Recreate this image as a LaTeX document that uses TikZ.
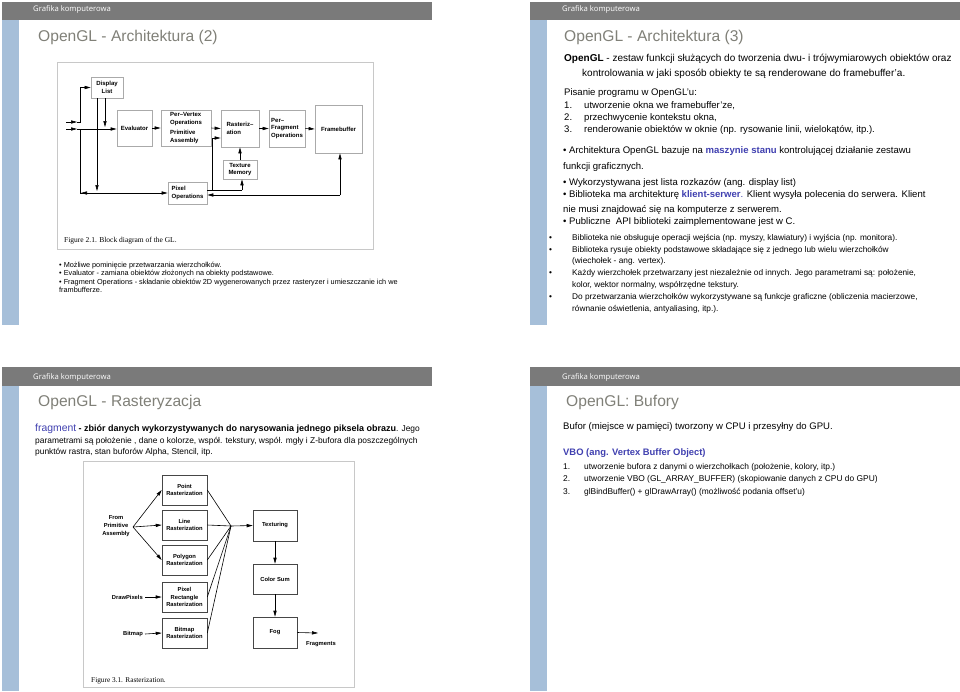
\documentclass[tikz,border=0pt]{standalone}
\usepackage{fontspec}
\setmainfont{Liberation Sans}
\newfontfamily\hdrfont{Open Sans}
\newfontfamily\capfont{Liberation Serif}
\usetikzlibrary{arrows.meta}
\definecolor{hdrgray}{RGB}{122,122,122}
\definecolor{stripblue}{RGB}{166,191,217}
\definecolor{titlegray}{RGB}{128,128,120}
\definecolor{linkblue}{RGB}{64,64,176}
\definecolor{framegray}{RGB}{200,200,200}
\definecolor{boxgray}{RGB}{170,170,170}
\definecolor{boxdark}{RGB}{70,70,70}
\tikzset{
  hdr/.style={anchor=base west, inner sep=0pt, text=white, font=\hdrfont\fontsize{7.7}{9}\selectfont},
  ttl/.style={anchor=base west, inner sep=0pt, text=titlegray, font=\fontsize{15.6}{18}\selectfont},
  ptxt/.style={anchor=base west, inner sep=0pt, font=\fontsize{10}{12}\selectfont},
  txt/.style={anchor=base west, inner sep=0pt, font=\fontsize{9.55}{11}\selectfont},
  ltxt/.style={anchor=base west, inner sep=0pt, font=\fontsize{8.4}{10}\selectfont},
  stxt/.style={anchor=base west, inner sep=0pt, font=\fontsize{8.3}{10}\selectfont},
  mtxt/.style={anchor=base west, inner sep=0pt, font=\fontsize{8.4}{10}\selectfont},
  btxt/.style={anchor=base west, inner sep=0pt, font=\fontsize{7.3}{9}\selectfont},
  capt/.style={anchor=base west, inner sep=0pt, font=\capfont\fontsize{7.5}{9}\selectfont},
  boxa/.style={draw=boxgray, line width=0.7pt, inner sep=1pt, font=\bfseries\fontsize{6}{7.6}\selectfont},
  boxb/.style={draw=boxdark, line width=0.6pt, inner sep=1pt, align=center, minimum width=45pt, minimum height=30pt, font=\bfseries\fontsize{5.8}{7.8}\selectfont},
  lbl/.style={inner sep=0pt, align=center, font=\bfseries\fontsize{5.8}{7.8}\selectfont},
  arr/.style={-{Triangle[length=6pt,width=3.2pt]}, line width=0.6pt},
  ln/.style={line width=0.6pt},
}
\begin{document}
\begin{tikzpicture}[x=1pt,y=-1pt]
\useasboundingbox (0,0) rectangle (960,691);
\fill[white] (0,0) rectangle (960,691);
% ---------- slide frames ----------
\fill[hdrgray] (2,2) rectangle (432,20);
\fill[stripblue] (2,20) rectangle (19,325);
\fill[hdrgray] (530,2) rectangle (960,20);
\fill[stripblue] (530,20) rectangle (547,325);
\fill[hdrgray] (2,367) rectangle (432,386);
\fill[stripblue] (2,386) rectangle (19,691);
\fill[hdrgray] (530,367) rectangle (960,386);
\fill[stripblue] (530,386) rectangle (547,691);
\node[hdr] (h1) at (33,11.5) {Grafika komputerowa};
\node[hdr] (h2) at (562,11.5) {Grafika komputerowa};
\node[hdr] (h3) at (33,379.5) {Grafika komputerowa};
\node[hdr] (h4) at (562,379.5) {Grafika komputerowa};
\node[ttl] (t1) at (38,41) {OpenGL - Architektura (2)};
\node[ttl] (t2) at (564,41) {OpenGL - Architektura (3)};
\node[ttl] (t3) at (38,406) {OpenGL - Rasteryzacja};
\node[ttl] (t4) at (566,406) {OpenGL: Bufory};

% ---------- slide 1: block diagram ----------
\draw[framegray, line width=0.8pt] (57,62) rectangle (373,249);
\node[boxa, minimum width=32pt, minimum height=21pt, align=center] (disp) at (107,87.5) {Display\\List};
\node[boxa, minimum width=35pt, minimum height=36pt] (eval) at (134.5,128) {Evaluator};
\node[boxa, minimum width=50pt, minimum height=36pt, align=left] (pv) at (186,128) {Per–Vertex\\Operations\\[3pt]Primitive\\Assembly};
\node[boxa, minimum width=38pt, minimum height=37pt, align=left] (rast) at (240,128.5) {Rasteriz–\\ation};
\node[boxa, minimum width=36pt, minimum height=37pt, align=left] (pf) at (287,128.5) {Per–\\Fragment\\Operations};
\node[boxa, minimum width=47pt, minimum height=48pt] (fb) at (338.5,129) {Framebuffer};
\node[boxa, minimum width=34pt, minimum height=19pt, align=center] (tex) at (240,169.5) {Texture\\Memory};
\node[boxa, minimum width=39pt, minimum height=22pt, align=left] (pix) at (187.5,193) {Pixel\\Operations};
\coordinate (ia0) at (66,122);
\coordinate (ia1) at (77,122);
\coordinate (ia2) at (80,122);
\coordinate (ib0) at (66,129);
\coordinate (ib1) at (77,129);
\coordinate (ib2) at (80,129);
\coordinate (pl) at (80,193);
\coordinate (pm) at (97,193);
\coordinate (pr1) at (212,190);
\coordinate (pr2) at (242,190);
\coordinate (fbl) at (340,195);
\draw[arr] (ia0) -- (ia1);
\draw[arr] (ia1) -- (ia2) |- (disp.west);
\draw[arr] (ib0) -- (ib1);
\draw[arr] (ib1) -- (ib1 -| eval.west);
\draw[ln] (ib2) -- (pl) -- (pm);
\draw[arr] (pm) -- (81,193);
\draw[arr] (pm) -- (pix.west);
\draw[arr] (disp.south -| 97,0) -- (97,191);
\draw[arr] (disp.south -| 105,0) -- (105,127);
\draw[arr] (eval.east) -- (pv.west);
\draw[arr] (pv.east) -- (rast.west);
\draw[arr] (rast.east) -- (pf.west);
\draw[arr] (pf.east) -- (fb.west);
\draw[arr] (tex.north) -- (rast.south);
\draw[ln] (pix.east |- pr1) -- (pr2);
\draw[arr] (pr2) -- (tex.south -| pr2);
\draw[arr] (pr1) |- (rast.west |- 0,138);
\draw[arr] (fbl) -- (fb.south -| fbl);
\draw[arr] (fbl) -- (pix.east |- fbl);
\node[capt] (cap1) at (64,242.5) {Figure 2.1. Block diagram of the GL.};
\node[btxt] (b11) at (59,267) {• Możliwe pominięcie przetwarzania wierzchołków.};
\node[btxt] (b12) at (59,275.5) {• Evaluator - zamiana obiektów złożonych na obiekty podstawowe.};
\node[btxt] (b13) at (59,284) {• Fragment Operations - składanie obiektów 2D wygenerowanych przez rasteryzer i umieszczanie ich we};
\node[btxt] (b14) at (59,292.5) {frambufferze.};

% ---------- slide 2 ----------
\node[ptxt] (p1) at (564,61.5) {\textbf{OpenGL} - zestaw funkcji służących do tworzenia dwu- i trójwymiarowych obiektów oraz};
\node[ptxt] (p2) at (582,76.5) {kontrolowania w jaki sposób obiekty te są renderowane do framebuffer’a.};
\node[txt] (p3) at (564,95.5) {Pisanie programu w OpenGL’u:};
\node[txt] (n1) at (564,108.5) {1.};
\node[txt] (l1) at (584,108.5) {utworzenie okna we framebuffer’ze,};
\node[txt] (n2) at (564,120.5) {2.};
\node[txt] (l2) at (584,120.5) {przechwycenie kontekstu okna,};
\node[txt] (n3) at (564,132.5) {3.};
\node[txt] (l3) at (584,132.5) {renderowanie obiektów w oknie (np. rysowanie linii, wielokątów, itp.).};
\node[txt] (q1) at (563,153.5) {• Architektura OpenGL bazuje na \textcolor{linkblue}{\textbf{maszynie stanu}} kontrolującej działanie zestawu};
\node[txt] (q2) at (563,169.5) {funkcji graficznych.};
\node[txt] (q3) at (563,185) {• Wykorzystywana jest lista rozkazów (ang. display list)};
\node[txt] (q4) at (563,197.5) {• Biblioteka ma architekturę \textcolor{linkblue}{\textbf{klient-serwer}}\textcolor{linkblue}{.} Klient wysyła polecenia do serwera. Klient};
\node[txt] (q5) at (563,212.5) {nie musi znajdować się na komputerze z serwerem.};
\node[txt] (q6) at (563,224.5) {• Publiczne\ \ API biblioteki zaimplementowane jest w C.};
\node[stxt] (d1) at (549,240) {•};
\node[stxt] (s1) at (572,240) {Biblioteka nie obsługuje operacji wejścia (np. myszy, klawiatury) i wyjścia (np. monitora).};
\node[stxt] (d2) at (549,252) {•};
\node[stxt] (s2) at (572,252) {Biblioteka rysuje obiekty podstawowe składające się z jednego lub wielu wierzchołków};
\node[stxt] (s3) at (572,263) {(wiechołek - ang. vertex).};
\node[stxt] (d3) at (549,275.5) {•};
\node[stxt] (s4) at (572,275.5) {Każdy wierzchołek przetwarzany jest niezależnie od innych. Jego parametrami są: położenie,};
\node[stxt] (s5) at (572,287) {kolor, wektor normalny, współrzędne tekstury.};
\node[stxt] (d4) at (549,299.5) {•};
\node[stxt] (s6) at (572,299.5) {Do przetwarzania wierzchołków wykorzystywane są funkcje graficzne (obliczenia macierzowe,};
\node[stxt] (s7) at (572,311) {równanie oświetlenia, antyaliasing, itp.).};

% ---------- slide 3 ----------
\node[mtxt] (f1) at (35,431) {\textcolor{linkblue}{\fontsize{10.4}{12}\selectfont fragment} {\fontsize{9}{11}\selectfont\textbf{- zbiór danych wykorzystywanych do narysowania jednego piksela obrazu}}. Jego};
\node[mtxt] (f2) at (35,443) {parametrami są położenie , dane o kolorze, współ. tekstury, współ. mgły i Z-bufora dla poszczególnych};
\node[mtxt] (f3) at (35,454) {punktów rastra, stan buforów Alpha, Stencil, itp.};
\draw[framegray, line width=0.8pt] (83,461) rectangle (354,687);
\node[boxb] (pt) at (184.5,490) {Point\\Rasterization};
\node[boxb] (li) at (184.5,525) {Line\\Rasterization};
\node[boxb] (po) at (184.5,560) {Polygon\\Rasterization};
\node[boxb] (pr) at (184.5,597) {Pixel\\Rectangle\\Rasterization};
\node[boxb] (bm) at (184.5,633) {Bitmap\\Rasterization};
\node[boxb, minimum width=44pt, minimum height=31pt] (tx) at (275,525.5) {Texturing};
\node[boxb, minimum width=44pt, minimum height=30pt] (cs) at (275,579) {Color Sum};
\node[boxb, minimum width=44pt, minimum height=31pt] (fog) at (275,632.5) {Fog};
\node[lbl] (from) at (116,526) {From\\Primitive\\Assembly};
\node[lbl, anchor=east] (dp) at (143,597) {DrawPixels};
\node[lbl, anchor=east] (bml) at (143,634) {Bitmap};
\node[lbl] (frag) at (321,644) {Fragments};
\coordinate (src) at (133,527);
\coordinate (jn) at (231,526);
\coordinate (out) at (318,633);
\draw[arr] (src) -- (pt.west);
\draw[arr] (src) -- (li.west);
\draw[arr] (src) -- (po.west);
\draw[arr] (dp.east) ++(2,0) -- (pr.west);
\draw[arr] (bml.east) ++(2,0) -- (bm.west);
\draw[ln] (pt.east) -- (jn);
\draw[ln] (li.east) -- (jn);
\draw[ln] (po.east) -- (jn);
\draw[ln] (pr.east) -- (jn);
\draw[ln] (bm.east) -- (jn);
\draw[arr] (jn) -- (tx.west);
\draw[arr] (tx.south) -- (cs.north);
\draw[arr] (cs.south) -- (fog.north);
\draw[arr] (fog.east) -- (out);
\node[capt, font=\capfont\fontsize{7.3}{9}\selectfont] (cap3) at (91,682.5) {Figure 3.1. Rasterization.};

% ---------- slide 4 ----------
\node[txt] (u1) at (563,429.5) {Bufor (miejsce w pamięci) tworzony w CPU i przesyłny do GPU.};
\node[txt, text=linkblue, font=\bfseries\fontsize{9.4}{11}\selectfont] (u2) at (563,455.5) {VBO (ang. Vertex Buffer Object)};
\node[ltxt] (m1) at (563,469) {1.};
\node[ltxt] (v1) at (584,469) {utworzenie bufora z danymi o wierzchołkach (położenie, kolory, itp.)};
\node[ltxt] (m2) at (563,481) {2.};
\node[ltxt] (v2) at (584,481) {utworzenie VBO (GL\_ARRAY\_BUFFER) (skopiowanie danych z CPU do GPU)};
\node[ltxt] (m3) at (563,494) {3.};
\node[ltxt] (v3) at (584,494) {glBindBuffer() + glDrawArray() (możliwość podania offset’u)};
\end{tikzpicture}
\end{document}
